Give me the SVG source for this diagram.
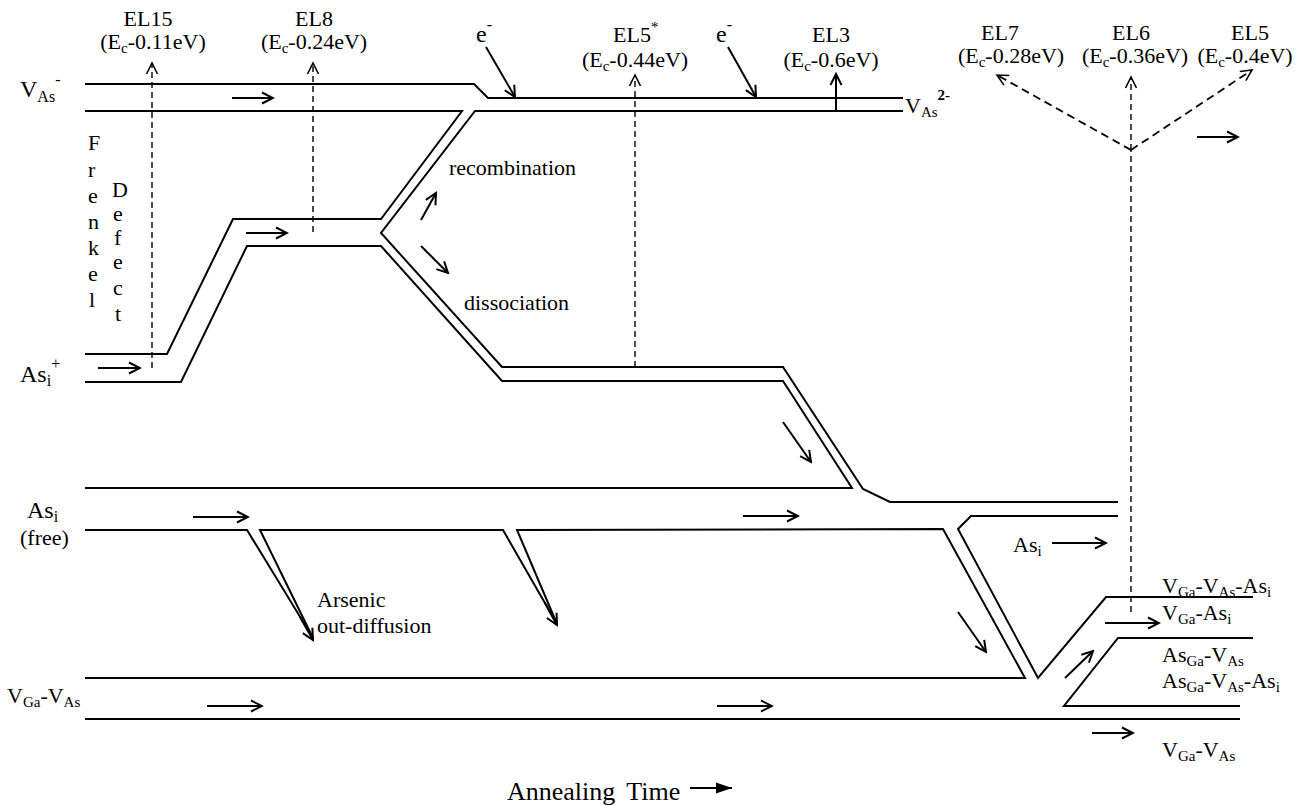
<svg xmlns="http://www.w3.org/2000/svg" width="1309" height="806" viewBox="0 0 1309 806">
<defs>
<style>
.ln{fill:none;stroke:#000;stroke-width:2;stroke-linejoin:miter}
.ar{fill:none;stroke:#000;stroke-width:2;marker-end:url(#oa)}
.da{fill:none;stroke:#000;stroke-width:1.4;stroke-dasharray:6,4}
.dam{fill:none;stroke:#000;stroke-width:1.4;stroke-dasharray:6,4;marker-end:url(#od)}
.dab{fill:none;stroke:#000;stroke-width:1.8;stroke-dasharray:8,5;marker-end:url(#od)}
text{font-family:"Liberation Serif","Times New Roman",serif;font-size:22px;fill:#000}
.s{font-size:15px}
.b{font-size:24px}
.bs{font-size:16px}
.m{text-anchor:middle}
</style>
<marker id="oa" markerUnits="userSpaceOnUse" markerWidth="16" markerHeight="16" viewBox="0 0 16 16" refX="14" refY="8" orient="auto"><path d="M3,2.5 L14,8 L3,13.5" fill="none" stroke="#000" stroke-width="2"/></marker>
<marker id="od" markerUnits="userSpaceOnUse" markerWidth="16" markerHeight="16" viewBox="0 0 16 16" refX="14" refY="8" orient="auto"><path d="M3,2.5 L14,8 L3,13.5" fill="none" stroke="#000" stroke-width="1.6"/></marker>
<marker id="fa" markerUnits="userSpaceOnUse" markerWidth="18" markerHeight="14" viewBox="0 0 18 14" refX="17" refY="7" orient="auto"><path d="M1,1.5 L17,7 L1,12.5 Z" fill="#000"/></marker>
</defs>
<rect width="1309" height="806" fill="#fff"/>

<g id="connectors">
<polyline class="ln" points="85,84 474,84 488,98 903,98"/>
<polyline class="ln" points="85,111 462,111 381,219 233,219 167,354 85,354"/>
<polyline class="ln" points="903,111 475,111 381,233 502,367 783,367 863,489 890,502 1118,502"/>
<polyline class="ln" points="85,382 181,382 247,246 381,246 502,381 783,381 852,488 85,488"/>
<polyline class="ln" points="85,530 247,530 313,638"/>
<polyline class="ln" points="313,638 260,530 503,530 557,624"/>
<polyline class="ln" points="557,624 517,530 943,529 1025,678 85,678"/>
<polyline class="ln" points="1118,516 971,516 958,529 1038,678 1106,597 1253,597"/>
<polyline class="ln" points="1240,706 1064,706 1118,638 1253,638"/>
<line class="ln" x1="85" y1="719" x2="1240" y2="719"/>

<line class="ar" x1="232" y1="98" x2="273" y2="98"/>
<line class="ar" x1="246" y1="233" x2="287" y2="233"/>
<line class="ar" x1="98" y1="368" x2="140" y2="368"/>
<line class="ar" x1="421" y1="220" x2="436" y2="193"/>
<line class="ar" x1="421" y1="246" x2="448" y2="273"/>
<line class="ar" x1="783" y1="422" x2="811" y2="462"/>
<line class="ar" x1="193" y1="517" x2="248" y2="517"/>
<line class="ar" x1="743" y1="516" x2="798" y2="516"/>
<line class="ar" x1="1052" y1="543" x2="1106" y2="543"/>
<line class="ar" x1="300" y1="617" x2="313" y2="640"/>
<line class="ar" x1="545" y1="603" x2="557" y2="625"/>
<line class="ar" x1="958" y1="612" x2="986" y2="652"/>
<line class="ar" x1="1065" y1="678" x2="1093" y2="651"/>
<line class="ar" x1="1105" y1="623" x2="1159" y2="623"/>
<line class="ar" x1="207" y1="706" x2="262" y2="706"/>
<line class="ar" x1="717" y1="706" x2="772" y2="706"/>
<line class="ar" x1="1092" y1="733" x2="1133" y2="733"/>
<line class="ar" x1="1197" y1="137" x2="1238" y2="137"/>
<line class="ar" x1="486" y1="47" x2="515" y2="97"/>
<line class="ar" x1="728" y1="47" x2="756" y2="97"/>
<line class="ar" x1="836" y1="111" x2="836" y2="74"/>
<line fill="none" stroke="#000" stroke-width="2" marker-end="url(#fa)" x1="690" y1="788" x2="732" y2="788"/>

<line class="dam" x1="152" y1="368" x2="152" y2="63"/>
<line class="dam" x1="313" y1="232" x2="313" y2="63"/>
<line class="dam" x1="635" y1="367" x2="635" y2="75"/>
<line class="da" x1="1131" y1="612" x2="1131" y2="150"/>
<line class="dam" x1="1131" y1="150" x2="1131" y2="77"/>
<line class="dab" x1="1131" y1="150" x2="997" y2="75"/>
<line class="dab" x1="1131" y1="150" x2="1252" y2="70"/>
</g>

<g id="node-vas">
<text class="b" x="20" y="97">V<tspan class="bs" dy="5">As</tspan><tspan class="bs" dy="-17">-</tspan></text>
<text x="905" y="113">V<tspan class="s" dy="4">As</tspan><tspan class="s" dy="-17" font-weight="bold">2-</tspan></text>
</g>
<g id="node-frenkel">
<text x="88" y="150">F</text><text x="88" y="177">r</text><text x="88" y="203">e</text><text x="88" y="229">n</text><text x="88" y="255">k</text><text x="88" y="281">e</text><text x="89" y="307">l</text>
<text x="112" y="197">D</text><text x="113" y="221">e</text><text x="114" y="245">f</text><text x="113" y="269">e</text><text x="113" y="295">c</text><text x="115" y="321">t</text>
</g>
<g id="node-asi-plus">
<text class="b" x="20" y="382">As<tspan class="bs" dy="4">i</tspan><tspan class="bs" dy="-17">+</tspan></text>
</g>
<g id="node-asi-free">
<text class="b" x="27" y="518">As<tspan class="bs" dy="4">i</tspan></text>
<text x="20" y="545">(free)</text>
<text x="1013" y="552">As<tspan class="s" dy="4">i</tspan></text>
</g>
<g id="node-vgavas">
<text x="7" y="703">V<tspan class="s" dy="4">Ga</tspan><tspan dy="-4">-V</tspan><tspan class="s" dy="4">As</tspan></text>
<text x="1162" y="757">V<tspan class="s" dy="4">Ga</tspan><tspan dy="-4">-V</tspan><tspan class="s" dy="4">As</tspan></text>
</g>
<g id="node-products">
<text x="1162" y="593">V<tspan class="s" dy="4">Ga</tspan><tspan dy="-4">-V</tspan><tspan class="s" dy="4">As</tspan><tspan dy="-4">-As</tspan><tspan class="s" dy="4">i</tspan></text>
<text x="1162" y="620">V<tspan class="s" dy="4">Ga</tspan><tspan dy="-4">-As</tspan><tspan class="s" dy="4">i</tspan></text>
<text x="1162" y="662">As<tspan class="s" dy="4">Ga</tspan><tspan dy="-4">-V</tspan><tspan class="s" dy="4">As</tspan></text>
<text x="1162" y="688">As<tspan class="s" dy="4">Ga</tspan><tspan dy="-4">-V</tspan><tspan class="s" dy="4">As</tspan><tspan dy="-4">-As</tspan><tspan class="s" dy="4">i</tspan></text>
</g>
<g id="node-process-labels">
<text x="449" y="175">recombination</text>
<text x="464" y="310">dissociation</text>
<text x="317" y="607">Arsenic</text>
<text x="317" y="633">out-diffusion</text>
<text class="b" x="476" y="42">e<tspan class="bs" dy="-12">-</tspan></text>
<text class="b" x="716" y="42">e<tspan class="bs" dy="-12">-</tspan></text>
</g>
<g id="node-levels">
<text class="m" x="148" y="26">EL15</text>
<text class="m" x="153" y="49">(E<tspan class="s" dy="4">c</tspan><tspan dy="-4">-0.11eV)</tspan></text>
<text class="m" x="314" y="26">EL8</text>
<text class="m" x="314" y="49">(E<tspan class="s" dy="4">c</tspan><tspan dy="-4">-0.24eV)</tspan></text>
<text x="613" y="42">EL5<tspan class="s" dy="-10">*</tspan></text>
<text class="m" x="635" y="67">(E<tspan class="s" dy="4">c</tspan><tspan dy="-4">-0.44eV)</tspan></text>
<text class="m" x="831" y="42">EL3</text>
<text class="m" x="831" y="67">(E<tspan class="s" dy="4">c</tspan><tspan dy="-4">-0.6eV)</tspan></text>
<text class="m" x="1000" y="40">EL7</text>
<text class="m" x="1011" y="63">(E<tspan class="s" dy="4">c</tspan><tspan dy="-4">-0.28eV)</tspan></text>
<text class="m" x="1131" y="40">EL6</text>
<text class="m" x="1135" y="63">(E<tspan class="s" dy="4">c</tspan><tspan dy="-4">-0.36eV)</tspan></text>
<text class="m" x="1250" y="40">EL5</text>
<text class="m" x="1245" y="63">(E<tspan class="s" dy="4">c</tspan><tspan dy="-4">-0.4eV)</tspan></text>
</g>
<g id="axis">
<text x="507" y="800" style="font-size:26px;word-spacing:5px">Annealing Time</text>
</g>
</svg>
